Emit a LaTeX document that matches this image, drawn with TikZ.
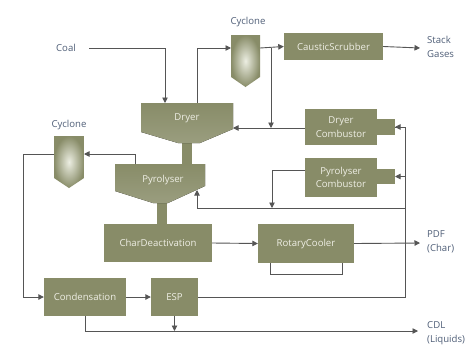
\documentclass[tikz,border=0pt]{standalone}
\usepackage{fontspec}
\setmainfont{Open Sans}
\usetikzlibrary{arrows.meta,calc}
\definecolor{olivebox}{RGB}{136,140,104}
\definecolor{olivelight}{RGB}{236,238,226}
\definecolor{lineg}{RGB}{85,85,85}
\definecolor{lbl}{RGB}{80,95,120}
\definecolor{boxtext}{RGB}{238,238,228}
\tikzset{
  box/.style={fill=olivebox, text=boxtext, inner sep=0pt, align=center,
    font=\fontsize{9.6}{13.5}\selectfont},
  plain/.style={fill=olivebox},
  cyc/.style={inner color=olivelight, outer color=olivebox},
  hopper/.style={top color=olivebox, bottom color=olivebox!85!white},
  conn/.style={draw=lineg, line width=0.9pt},
  arr/.style={conn, -{Triangle[length=5.5pt,width=5.5pt]}},
  lab/.style={text=lbl, inner sep=0pt, align=left, font=\fontsize{9.6}{13.5}\selectfont},
  txt/.style={text=boxtext, inner sep=0pt, font=\fontsize{9.6}{13.5}\selectfont}
}
\begin{document}
\begin{tikzpicture}[x=1pt,y=-1pt]
\useasboundingbox (0,0) rectangle (474,349);
\fill[white] (0,0) rectangle (474,349);

% ---- shapes ----
% stems
\fill[plain] (182,140) rectangle (192,166);
\fill[plain] (157,200) rectangle (167,226);
% dryer hopper
\fill[hopper] (141,103) -- (233,103) -- (233,129) -- (200,143) -- (178,143) -- (141,132) -- cycle;
\node[txt] (dryer) at (187,118) {Dryer};
% pyrolyser hopper
\fill[hopper] (115,164) -- (205,164) -- (205,186) -- (168,203) -- (153,203) -- (115,191) -- cycle;
\node[txt] (pyro) at (163,180) {Pyrolyser};
% cyclones
\shade[cyc] (231,35) -- (260,35) -- (260,77) -- (245.5,87) -- (231,77) -- cycle;
\shade[cyc] (54,136) -- (84,136) -- (84,178) -- (69,188) -- (54,178) -- cycle;
\node[lab] (cyc1lab) at (248,22) {Cyclone};
\node[lab] (cyc2lab) at (69,125) {Cyclone};
\coordinate (cyc1w) at (231,48);
\coordinate (cyc1e) at (260,48);
\coordinate (cyc2w) at (54,154);
\coordinate (cyc2e) at (84,154);

% boxes
\node[box, minimum width=99pt, minimum height=27pt] (scrub) at (333.5,46.5) {CausticScrubber};
\fill[plain] (376,119) rectangle (395,135);
\node[box, minimum width=72pt, minimum height=36pt] (dcomb) at (341,127) {Dryer\\Combustor};
\fill[plain] (376,169) rectangle (395,184);
\node[box, minimum width=72pt, minimum height=39pt] (pcomb) at (341,177.5) {Pyrolyser\\Combustor};
\node[box, minimum width=108pt, minimum height=38pt] (chard) at (158,243) {CharDeactivation};
\node[box, minimum width=96pt, minimum height=39pt] (rotc) at (306,243.5) {RotaryCooler};
\node[box, minimum width=82pt, minimum height=38pt] (cond) at (85,297) {Condensation};
\node[box, minimum width=47pt, minimum height=38pt] (esp) at (174.5,297) {ESP};

% outside labels
\node[lab] (coal) at (66,48) {Coal};
\node[lab, anchor=west] (stack) at (427,47) {Stack\\Gases};
\node[lab, anchor=west] (pdf) at (427,242) {PDF\\(Char)};
\node[lab, anchor=west] (cdl) at (427,333) {CDL\\(Liquids)};

% ---- coordinates ----
\coordinate (coalend) at (89,48);
\coordinate (dryin) at (165,103);
\coordinate (dryout) at (197,103);
\coordinate (dryeast) at (233,128);
\coordinate (j1) at (271,48);
\coordinate (stackend) at (420,48);
\coordinate (pyrotop) at (135,164);
\coordinate (pyroin) at (197,190);
\coordinate (bus) at (405,208);
\coordinate (dcin) at (395,127);
\coordinate (pcin) at (395,176.5);
\coordinate (pdfend) at (420,243);
\coordinate (leftx) at (23,154);
\coordinate (cdlend) at (418,331);
\coordinate (pcj) at (272,170);

% ---- connectors ----
\draw[arr] (coalend) -| (dryin);
\draw[arr] (dryout) |- (cyc1w);
\draw[arr] (cyc1e) -- (scrub.west);
\draw[arr] (scrub.east) -- (stackend);
\draw[arr] (j1) -- (j1 |- dryeast);
\draw[arr] (dcomb.west |- dryeast) -- (dryeast);
\draw[conn] (esp.east) -| (dcin -| bus) -- (dcin);
\draw[arr] (dcin -| bus) -- (dcin);
\draw[arr] (pcin -| bus) -- (pcin);
\draw[arr] (bus) -| (pyroin);
\draw[arr] (pcomb.west |- pcj) -| (pcj |- bus);
\draw[arr] (pyrotop) |- (cyc2e);
\draw[arr] (cyc2w) -| (leftx |- cond.west) -- (cond.west);
\draw[arr] (cond.east) -- (esp.west);
\draw[arr] (chard.east) -- (rotc.west);
\draw[arr] (rotc.east) -- (pdfend);
\draw[conn] ($(rotc.south west)+(13,0)$) -- ++(0,11) -| ($(rotc.south east)+(-12,0)$);
\draw[arr] (cond.south) |- (cdlend);
\draw[arr] (esp.south) -- (esp.south |- cdlend);
\end{tikzpicture}
\end{document}
